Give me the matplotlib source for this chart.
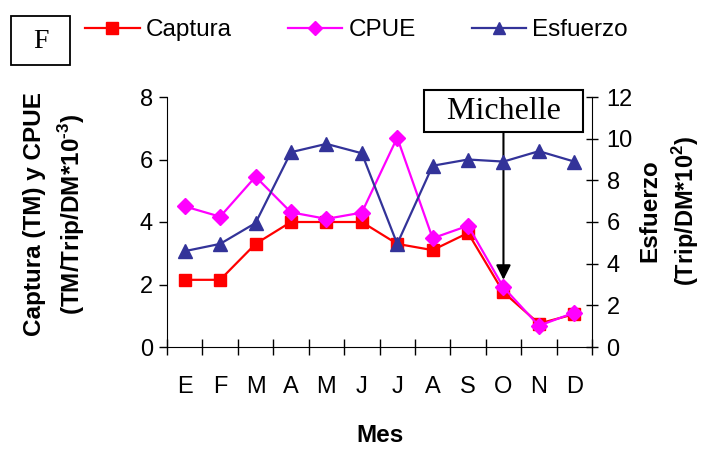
import numpy as np
import matplotlib.pyplot as plt
from matplotlib.lines import Line2D
from matplotlib.patches import Rectangle

# Datos mensuales
meses = ['E', 'F', 'M', 'A', 'M', 'J', 'J', 'A', 'S', 'O', 'N', 'D']
captura = [2.15, 2.15, 3.3, 4.0, 4.0, 4.0, 3.3, 3.1, 3.65, 1.75, 0.75, 1.05]
cpue = [4.5, 4.17, 5.45, 4.31, 4.1, 4.3, 6.7, 3.48, 3.88, 1.91, 0.68, 1.1]
esfuerzo = [4.6, 4.95, 5.95, 9.35, 9.75, 9.3, 4.95, 8.7, 9.0, 8.9, 9.4, 8.9]

rojo = '#FF0000'
magenta = '#FF00FF'
azul = '#333399'

plt.rcParams['font.family'] = ['Liberation Sans', 'DejaVu Sans']
plt.rcParams['mathtext.fontset'] = 'custom'
plt.rcParams['mathtext.rm'] = 'Liberation Sans:bold'
plt.rcParams['mathtext.bf'] = 'Liberation Sans:bold'

fig = plt.figure(figsize=(7.02, 4.51), dpi=100)
W, H = 702, 451
ax = fig.add_axes([167 / W, (H - 347) / H, (592 - 167) / W, (347 - 97) / H])
ax2 = ax.twinx()

x = np.arange(len(meses)) + 0.5

ax.plot(x, captura, color=rojo, lw=1.6, marker='s', ms=9, zorder=3)
ax.plot(x, cpue, color=magenta, lw=1.6, marker='D', ms=8, zorder=4)
ax2.plot(x, esfuerzo, color=azul, lw=1.6, marker='^', ms=10, zorder=3)

ax.set_xlim(0, 12)
ax.set_ylim(0, 8)
ax2.set_ylim(0, 12)
ax.set_yticks([0, 2, 4, 6, 8])
ax2.set_yticks([0, 2, 4, 6, 8, 10, 12])

# marcas entre meses, etiquetas en el centro
ax.set_xticks(np.arange(0, 13))
ax.set_xticklabels([])
ax.set_xticks(x, minor=True)
ax.set_xticklabels(meses, minor=True)
ax.tick_params(axis='x', which='major', direction='inout', length=12, width=1)
ax.tick_params(axis='x', which='minor', length=0, pad=21, labelsize=17)
ax.tick_params(axis='y', direction='out', length=6, width=1, labelsize=17, pad=4)
ax2.tick_params(axis='y', direction='inout', length=9, width=1, labelsize=17, pad=6)

for a in (ax, ax2):
    a.spines['top'].set_visible(False)
ax.spines['right'].set_visible(False)
ax2.spines['left'].set_visible(False)
ax2.spines['bottom'].set_visible(False)

# Etiquetas de ejes
fs_lab = 17.5
fig.text(35 / W, 1 - 214 / H, 'Captura (TM) y CPUE', rotation=90, ha='center', va='center',
         fontsize=fs_lab, fontweight='bold')
fig.text(72 / W, 1 - 214 / H, '(TM/Trip/DM*10$^{\\text{-3}}$)', rotation=90, ha='center', va='center',
         fontsize=fs_lab, fontweight='bold')
fig.text(650 / W, 1 - 211 / H, 'Esfuerzo', rotation=90, ha='center', va='center',
         fontsize=fs_lab, fontweight='bold')
fig.text(686 / W, 1 - 211 / H, '(Trip/DM*10$^{\\text{2}}$)', rotation=90, ha='center', va='center',
         fontsize=17, fontweight='bold')
fig.text(380 / W, 1 - 435 / H, 'Mes', ha='center', va='center', fontsize=fs_lab, fontweight='bold')

# Huracán Michelle
ax.annotate('  Michelle  ', xy=(9.5, 2.15), xytext=(9.5, 7.54), ha='center', va='center',
            fontsize=23, family='Liberation Serif',
            bbox=dict(boxstyle='square,pad=0.2', fc='white', ec='black', lw=1.5),
            arrowprops=dict(arrowstyle='-|>', color='black', lw=1.5, mutation_scale=22,
                            shrinkA=0, shrinkB=0),
            zorder=5)

# Recuadro "F"
fig.patches.append(Rectangle((11 / W, 1 - 65 / H), 59 / W, 49 / H, transform=fig.transFigure,
                             fill=False, ec='black', lw=1.3))
fig.text(40.5 / W, 1 - 42 / H, 'F', ha='center', va='center', fontsize=20, family='Liberation Serif')

# Leyenda
handles = [
    Line2D([], [], color=rojo, lw=1.6, marker='s', ms=8),
    Line2D([], [], color=magenta, lw=1.6, marker='D', ms=7),
    Line2D([], [], color=azul, lw=1.6, marker='^', ms=9),
]
fig.legend(handles, ['Captura', 'CPUE', 'Esfuerzo'], loc='upper left', bbox_to_anchor=(85 / W, 1 - 19 / H),
           ncol=3, frameon=False, fontsize=17.5, handlelength=2.25, handletextpad=0.25,
           columnspacing=2.3, borderaxespad=0, borderpad=0)

fig.savefig('out.png', dpi=100)
